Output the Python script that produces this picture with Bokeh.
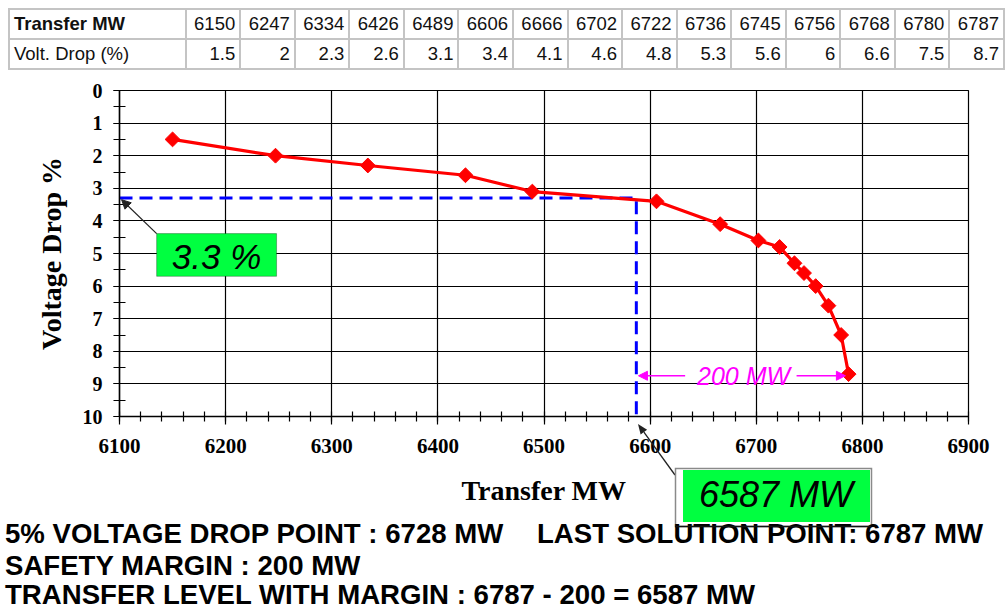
import math
from bokeh.plotting import figure
from bokeh.layouts import column
from bokeh.models import (Range1d, SingleIntervalTicker, Label, Arrow, NormalHead,
                          BoxAnnotation, Div)
from bokeh.embed import file_html
from bokeh.resources import INLINE

# ---------------- data ----------------
transfer_mw = [6150, 6247, 6334, 6426, 6489, 6606, 6666, 6702, 6722, 6736, 6745, 6756, 6768, 6780, 6787]
volt_drop = [1.5, 2, 2.3, 2.6, 3.1, 3.4, 4.1, 4.6, 4.8, 5.3, 5.6, 6, 6.6, 7.5, 8.7]
row_headers = ["Transfer MW", "Volt. Drop (%)"]

x_start, x_end, x_step = 6100, 6900, 100
y_start, y_end, y_step = 0, 10, 1

margin_level = 6587      # transfer level with margin
drop_at_margin = 3.3     # voltage drop at that level
last_point = 6787
safety_margin = 200

box_pct_text = "3.3 %"
box_mw_text = "6587 MW"
margin_text = "200 MW"
note_1a = "5% VOLTAGE DROP POINT : 6728 MW"
note_1b = "LAST SOLUTION POINT: 6787 MW"
note_2 = "SAFETY MARGIN : 200 MW"
note_3 = "TRANSFER LEVEL WITH MARGIN : 6787 - 200 = 6587 MW"

SANS = "Liberation Sans"
SERIF = "Liberation Serif"

# ---------------- table (HTML) ----------------
td = ("border:2px solid #c4c4c4;height:30px;padding:0 4px 0 0;text-align:right;"
      "white-space:nowrap;overflow:hidden;")
th = ("border:2px solid #c4c4c4;height:30px;padding:0 0 0 4px;text-align:left;"
      "white-space:nowrap;")
row1 = f'<td style="{th}font-weight:bold;">{row_headers[0]}</td>' + "".join(
    f'<td style="{td}">{v}</td>' for v in transfer_mw)
row2 = f'<td style="{th}">{row_headers[1]}</td>' + "".join(
    f'<td style="{td}">{v:g}</td>' for v in volt_drop)
cols = '<col style="width:177px">' + '<col style="width:54.6px">' * len(transfer_mw)
table_html = (
    '<table style="border-collapse:collapse;table-layout:fixed;margin:8px 0 0 8px;'
    f'font-family:\'{SANS}\';font-size:18.5px;color:#111;background:white;">'
    f'<colgroup>{cols}</colgroup><tr>{row1}</tr><tr>{row2}</tr></table>'
)
table = Div(text=table_html, width=1005, height=78, margin=0,
            styles={"overflow": "hidden", "background": "white"})

# ---------------- chart ----------------
p = figure(width=1005, height=528, x_range=Range1d(x_start, x_end),
           y_range=Range1d(y_end, y_start), toolbar_location=None, output_backend="svg",
           min_border_left=119, min_border_right=37, min_border_top=12, min_border_bottom=190)
p.background_fill_color = "white"
p.border_fill_color = "white"
p.outline_line_color = "black"
p.outline_line_width = 1.2

p.xaxis.ticker = SingleIntervalTicker(interval=x_step, num_minor_ticks=5)
p.yaxis.ticker = SingleIntervalTicker(interval=y_step, num_minor_ticks=2)
p.xgrid.ticker = SingleIntervalTicker(interval=x_step)
p.ygrid.ticker = SingleIntervalTicker(interval=y_step)
p.grid.grid_line_color = "black"
p.grid.grid_line_width = 1.2
p.grid.grid_line_alpha = 1.0

for ax in (p.xaxis[0], p.yaxis[0]):
    ax.axis_line_color = "black"
    ax.axis_line_width = 1.5
    ax.major_tick_line_color = "black"
    ax.minor_tick_line_color = "black"
    ax.major_tick_line_width = 1.2
    ax.minor_tick_line_width = 1.2
    ax.major_label_text_font = SERIF
    ax.major_label_text_font_style = "bold"
    ax.major_label_text_color = "black"
    ax.axis_label_text_font = SERIF
    ax.axis_label_text_font_style = "bold"
    ax.axis_label_text_color = "black"

p.xaxis.major_tick_in = 0
p.xaxis.major_tick_out = 8
p.xaxis.minor_tick_in = 5
p.xaxis.minor_tick_out = 5
p.xaxis.major_label_standoff = 14
p.xaxis.major_label_text_font_size = "21px"
p.xaxis.axis_label = "Transfer MW"
p.xaxis.axis_label_text_font_size = "28px"
p.xaxis.axis_label_standoff = 19

p.yaxis.major_tick_in = 0
p.yaxis.major_tick_out = 6
p.yaxis.minor_tick_in = 6
p.yaxis.minor_tick_out = 6
p.yaxis.major_label_standoff = 11
p.yaxis.major_label_text_font_size = "20px"
p.yaxis.axis_label = "Voltage Drop %"
p.yaxis.axis_label_text_font_size = "28px"
p.yaxis.axis_label_standoff = 13

# margin guide (blue dashed)
p.line(x=[x_start, margin_level, margin_level], y=[drop_at_margin, drop_at_margin, y_end],
       line_color="#0000FF", line_width=3, line_dash="13 7")

# curve
p.line(x=transfer_mw, y=volt_drop, line_color="#FF0000", line_width=3.2)
p.scatter(x=transfer_mw, y=volt_drop, marker="square", angle=0.785398, size=10.5,
          fill_color="#FF0000", line_color="#FF0000")

# 200 MW annotation
mag = "#FF00FF"
p.add_layout(Arrow(x_start=6633, y_start=8.75, x_end=margin_level + 2, y_end=8.75,
                   line_color=mag, line_width=1.5,
                   end=NormalHead(size=9, fill_color=mag, line_color=mag)))
p.add_layout(Arrow(x_start=6738, y_start=8.75, x_end=last_point - 3, y_end=8.75,
                   line_color=mag, line_width=1.5,
                   end=NormalHead(size=9, fill_color=mag, line_color=mag)))
p.add_layout(Label(x=6688, y=8.75, text=margin_text, text_align="center", text_baseline="middle",
                   text_font=SANS, text_font_style="italic", text_font_size="25px",
                   text_color=mag))

# 3.3 % box
green = "#00FF40"
p.add_layout(BoxAnnotation(left=6135, right=6248, top=4.39, bottom=5.7,
                           fill_color=green, fill_alpha=1.0, line_color="black", line_width=1))
p.add_layout(Label(x=6191.5, y=5.08, text=box_pct_text, text_align="center", text_baseline="middle",
                   text_font=SANS, text_font_style="italic", text_font_size="35px",
                   text_color="black"))
p.add_layout(Arrow(x_start=6135, y_start=4.39, x_end=x_start + 2, y_end=drop_at_margin + 0.05,
                   line_color="#222222", line_width=1.2,
                   end=NormalHead(size=9, fill_color="#222222", line_color="#222222")))

# ---------------- overlay below the axis (box, arrow, notes) ----------------
OV_H = 190
# arrow from the 6587 MW box up to the axis
ax0, ay0, ax1, ay1 = 675, 59, 638, 8
dx, dy = ax1 - ax0, ay1 - ay0
ln = math.hypot(dx, dy)
ux, uy = dx / ln, dy / ln
bx, by = ax1 - 10 * ux, ay1 - 10 * uy
px_, py_ = -uy, ux
head = f"{ax1},{ay1} {bx + 4 * px_:.1f},{by + 4 * py_:.1f} {bx - 4 * px_:.1f},{by - 4 * py_:.1f}"

note_attr = f'font-family="{SANS}" font-size="27.6" font-weight="bold" fill="black"'
overlay_svg = (
    f'<svg xmlns="http://www.w3.org/2000/svg" width="1005" height="{OV_H}" '
    'style="position:absolute;left:0;top:0;overflow:visible">'
    f'<line x1="{ax0}" y1="{ay0}" x2="{bx:.1f}" y2="{by:.1f}" stroke="#222" stroke-width="1.3"/>'
    f'<polygon points="{head}" fill="#222"/>'
    '<rect x="675.5" y="52.5" width="196" height="58" fill="white" stroke="#8a8a8a" stroke-width="1.5"/>'
    f'<rect x="683" y="54" width="187" height="52" fill="{green}"/>'
    f'<text x="776" y="91" text-anchor="middle" font-family="{SANS}" font-size="36" '
    f'font-style="italic" fill="black">{box_mw_text}</text>'
    f'<text x="5" y="127" {note_attr}>{note_1a}</text>'
    f'<text x="537" y="127" {note_attr}>{note_1b}</text>'
    '<line x1="675" y1="110.5" x2="871" y2="110.5" stroke="#111" stroke-width="1.5"/>'
    f'<text x="5" y="159" {note_attr}>{note_2}</text>'
    f'<text x="5" y="188" {note_attr}>{note_3}</text>'
    '</svg>'
)
overlay = Div(text=overlay_svg, width=1005, height=OV_H, margin=(-OV_H, 0, 0, 0),
              styles={"position": "relative", "z-index": "5", "background": "transparent",
                      "overflow": "visible", "pointer-events": "none"})

layout = column(table, p, overlay, spacing=0)
open("out.html", "w").write(file_html(layout, INLINE))
